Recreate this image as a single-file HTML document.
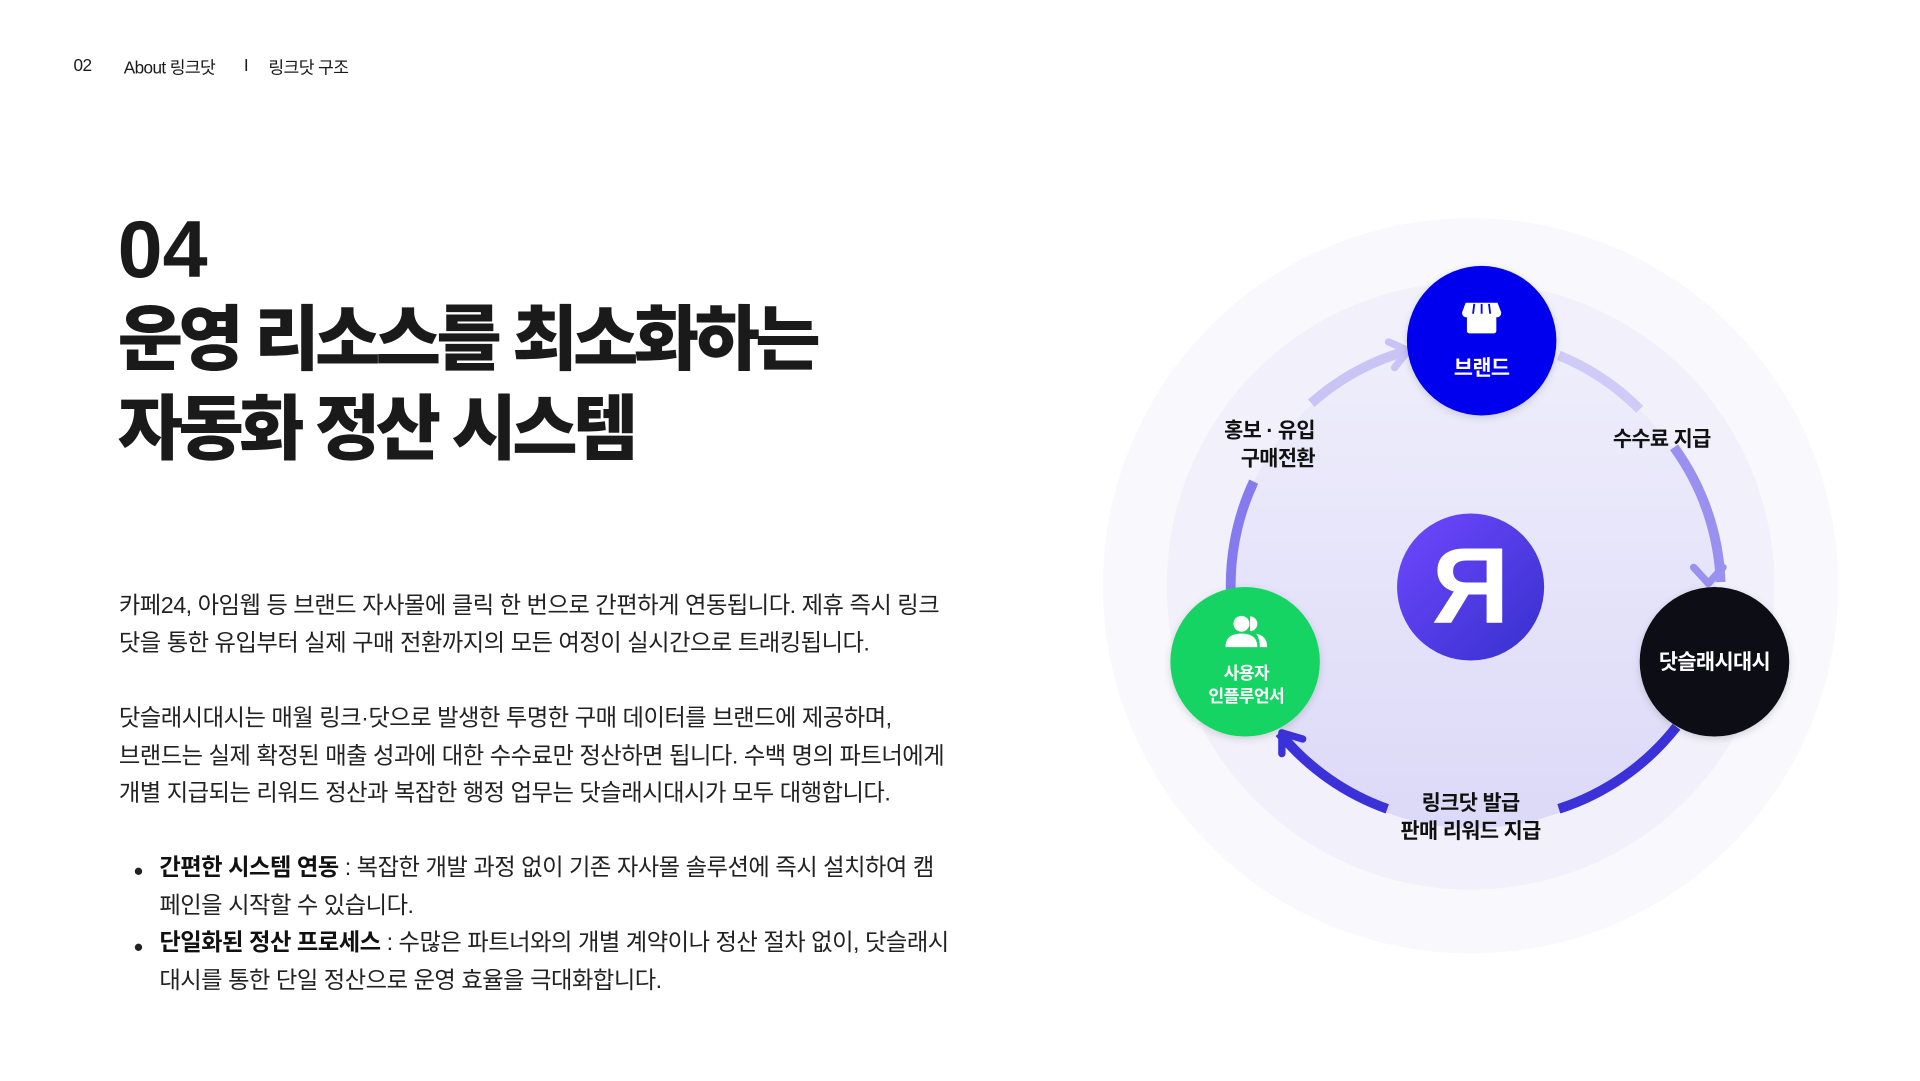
<!DOCTYPE html>
<html><head><meta charset="utf-8"><style>
html,body{margin:0;padding:0;background:#fff;width:1920px;height:1080px;overflow:hidden}
#w{position:absolute;left:0;top:0;width:1567px;height:882px;transform:scale(1.2255);transform-origin:0 0;font-family:"Liberation Sans","Noto Sans CJK KR",sans-serif;color:#1a1a1a}
.a{position:absolute;white-space:nowrap}
.hd{font-size:14px;top:45px;letter-spacing:-0.5px}
.t{font-weight:900;font-size:58px;letter-spacing:-3.8px;left:96px;line-height:73px}
.p{left:97px;font-size:19px;letter-spacing:-0.4px;line-height:30.5px;color:#222}
.b{left:130px;font-size:19px;letter-spacing:-0.4px;line-height:30.7px;color:#222}
.dot{position:absolute;left:110px;width:6px;height:6px;border-radius:50%;background:#222}
</style></head><body><div id="w">
<div class="a hd" style="left:60px">02</div>
<div class="a hd" style="left:101px">About 링크닷</div>
<div class="a hd" style="left:199px">I</div>
<div class="a hd" style="left:219px">링크닷 구조</div>
<div class="a t" style="top:167px;font-size:66px;letter-spacing:0px">04</div>
<div class="a t" style="top:241px">운영 리소스를 최소화하는</div>
<div class="a t" style="top:314px">자동화 정산 시스템</div>
<div class="a p" style="top:480px">카페24, 아임웹 등 브랜드 자사몰에 클릭 한 번으로 간편하게 연동됩니다. 제휴 즉시 링크<br>닷을 통한 유입부터 실제 구매 전환까지의 모든 여정이 실시간으로 트래킹됩니다.</div>
<div class="a p" style="top:572px">닷슬래시대시는 매월 링크·닷으로 발생한 투명한 구매 데이터를 브랜드에 제공하며,<br>브랜드는 실제 확정된 매출 성과에 대한 수수료만 정산하면 됩니다. 수백 명의 파트너에게<br>개별 지급되는 리워드 정산과 복잡한 행정 업무는 닷슬래시대시가 모두 대행합니다.</div>
<div class="dot" style="top:708px"></div><div class="dot" style="top:770px"></div>
<div class="a b" style="top:694px"><b style="color:#111">간편한 시스템 연동</b> : 복잡한 개발 과정 없이 기존 자사몰 솔루션에 즉시 설치하여 캠<br>페인을 시작할 수 있습니다.<br><b style="color:#111">단일화된 정산 프로세스</b> : 수많은 파트너와의 개별 계약이나 정산 절차 없이, 닷슬래시<br>대시를 통한 단일 정산으로 운영 효율을 극대화합니다.</div>
<svg class="a" style="left:0;top:0" width="1567" height="882" viewBox="0 0 1567 882">
<defs>
<linearGradient id="in" x1="0" y1="0" x2="0" y2="1"><stop offset="0" stop-color="#efeefb"/><stop offset="1" stop-color="#dcd9f8"/></linearGradient>
<linearGradient id="lg" x1="0" y1="0" x2="1" y2="1"><stop offset="0" stop-color="#7048ff"/><stop offset="1" stop-color="#3530cc"/></linearGradient>
<filter id="sh" x="-30%" y="-30%" width="160%" height="160%"><feDropShadow dx="0" dy="2" stdDeviation="3" flood-color="#000" flood-opacity="0.15"/></filter>
</defs>
<circle cx="1200" cy="478" r="300" fill="#f8f8fd"/>
<circle cx="1200" cy="478" r="248" fill="#f2f1fb"/>
<circle cx="1202" cy="478" r="198" fill="url(#in)"/>
<g fill="none" stroke-width="8" stroke-linecap="butt">
<path d="M1005,495 A200 200 0 0 1 1023,393" stroke="#857bee"/>
<path d="M1070,329 A200 200 0 0 1 1149,286" stroke="#c9c3f6"/>
<path d="M1272,290 A200 200 0 0 1 1338,334" stroke="#cfcaf7"/>
<path d="M1366,365 A200 200 0 0 1 1404,475" stroke="#9a90f0"/>
<path d="M1368,593 A200 200 0 0 1 1272,660" stroke="#3b31d9"/>
<path d="M1132,660 A200 200 0 0 1 1044,598" stroke="#3b31d9"/>
</g>
<g fill="none" stroke-width="6" stroke-linecap="round" stroke-linejoin="round">
<polyline points="1138,300 1149,286 1133,279" stroke="#c9c3f6"/>
<polyline points="1382,463 1394,476 1406,463" stroke="#9a90f0"/>
<polyline points="1063,603 1046,598 1046,615" stroke="#3b31d9"/>
</g>
<circle cx="1209" cy="278" r="61" fill="#0505ee" filter="url(#sh)"/>
<circle cx="1399" cy="540" r="61" fill="#111113" filter="url(#sh)"/>
<circle cx="1016" cy="540" r="61" fill="#16d463" filter="url(#sh)"/>
<circle cx="1200" cy="479" r="60" fill="url(#lg)"/>
<text x="1200" y="508" text-anchor="middle" font-family="Liberation Sans,sans-serif" font-weight="bold" font-size="88" fill="#fff">Я</text>
<g fill="#fff"><path d="M1196,247 h26 l3,8 q0,4 -4,4 h-24 q-4,0 -4,-4z"/><rect x="1197" y="258" width="24" height="14" rx="2"/></g>
<g stroke="#0505ee" stroke-width="1.5"><line x1="1203" y1="248" x2="1202" y2="256"/><line x1="1209" y1="248" x2="1209" y2="256"/><line x1="1215" y1="248" x2="1216" y2="256"/></g>
<g fill="#fff"><circle cx="1013" cy="509" r="6.5"/><path d="M1000,528 q0,-11 13,-11 q13,0 13,11z"/><path d="M1020,503 a6 6 0 0 1 0,12 z"/><path d="M1025,517 q9,2 9,11 h-6 q0,-7 -3,-11z"/></g>
<g font-family="Liberation Sans,Noto Sans CJK KR,sans-serif" font-weight="bold" text-anchor="middle" letter-spacing="-0.5">
<text x="1209" y="306" font-size="17" fill="#fff">브랜드</text>
<text x="1399" y="546" font-size="17" fill="#fff">닷슬래시대시</text>
<text x="1017" y="554" font-size="14" fill="#fff">사용자</text>
<text x="1017" y="573" font-size="14" fill="#fff">인플루언서</text>
<text x="1073" y="357" font-size="17" fill="#111" text-anchor="end">홍보 · 유입</text>
<text x="1073" y="380" font-size="17" fill="#111" text-anchor="end">구매전환</text>
<text x="1356" y="364" font-size="17" fill="#111">수수료 지급</text>
<text x="1200" y="661" font-size="17" fill="#111">링크닷 발급</text>
<text x="1200" y="684" font-size="17" fill="#111">판매 리워드 지급</text>
</g>
</svg>
</div></body></html>
